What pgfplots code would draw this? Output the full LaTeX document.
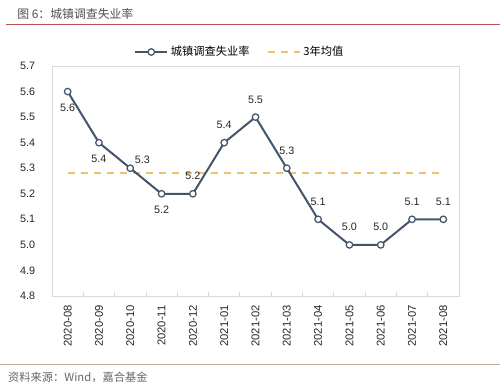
\documentclass[border=0pt]{standalone}
\usepackage{pgfplots}
\pgfplotsset{compat=1.18}
\usepackage{fontspec}
\setmainfont{Liberation Sans}
\newfontfamily\cjk{Noto Sans CJK SC}
\definecolor{lineblue}{HTML}{44546A}
\definecolor{avggold}{HTML}{F2C066}
\definecolor{framegray}{HTML}{D9D9D9}
\definecolor{titlegray}{HTML}{505050}
\definecolor{redline}{HTML}{C0504D}
\definecolor{footline}{HTML}{C9A39C}
\pgfplotsset{/pgf/number format/assume math mode=true}
\begin{document}
\begin{tikzpicture}
\path[use as bounding box] (0,0) rectangle (400pt,308pt);
\node[anchor=west, inner sep=0pt, font=\cjk\fontsize{9.5}{11}\selectfont, text=titlegray] at (13.6pt,296.8pt) {图 6：城镇调查失业率};
\draw[redline, line width=0.8pt] (4.8pt,288pt) -- (400pt,288pt);
\draw[footline, line width=0.8pt] (0pt,16pt) -- (400pt,16pt);
\node[anchor=west, inner sep=0pt, font=\cjk\fontsize{9}{10}\selectfont, text=black!60] at (6.4pt,6.4pt) {资料来源：Wind，嘉合基金};
\begin{axis}[
  at={(41.6pt,71.2pt)}, anchor=south west,
  scale only axis, width=325.6pt, height=184pt,
  xmin=-0.5, xmax=12.5, ymin=4.8, ymax=5.7,
  ytick={4.8,4.9,5.0,5.1,5.2,5.3,5.4,5.5,5.6,5.7},
  yticklabel style={/pgf/number format/fixed, /pgf/number format/fixed zerofill, /pgf/number format/precision=1},
  y tick label style={font=\fontsize{8.6}{10}\selectfont, xshift=-10pt},
  xtick={0,1,2,3,4,5,6,7,8,9,10,11,12},
  xticklabels={2020-08,2020-09,2020-10,2020-11,2020-12,2021-01,2021-02,2021-03,2021-04,2021-05,2021-06,2021-07,2021-08},
  x tick label style={yshift=-4pt, rotate=90, anchor=east, font=\fontsize{9}{10}\selectfont},
  major tick length=0pt,
  minor xtick={-0.5,0.5,1.5,2.5,3.5,4.5,5.5,6.5,7.5,8.5,9.5,10.5,11.5,12.5},
  minor tick length=3pt,
  tick align=inside,
  xtick pos=bottom, ytick pos=left,
  minor tick style={framegray, line width=0.6pt},
  axis line style={framegray, line width=0.6pt},
  tick label style={text=black!85},
  legend style={at={(0.462,1.061)}, anchor=center, draw=none, fill=none, legend columns=2, font=\cjk\fontsize{9}{10}\selectfont, /tikz/every even column/.append style={column sep=12pt}},
  legend cell align=left,
  legend image code/.code={\draw[mark repeat=2,mark phase=2,#1] plot coordinates {(0cm,0cm) (0.45cm,0cm) (0.9cm,0cm)};},
  clip=false,
]
\addplot[avggold, line width=1.4pt, dash pattern=on 5.6pt off 4.8pt, forget plot] coordinates {(0,5.28) (12,5.28)};
\addplot[lineblue, line width=1.6pt, mark=*, mark size=2.6pt, mark options={fill=white, draw=lineblue, line width=1pt, solid}] coordinates {
(0,5.6) (1,5.4) (2,5.3) (3,5.2) (4,5.2) (5,5.4) (6,5.5) (7,5.3) (8,5.1) (9,5.0) (10,5.0) (11,5.1) (12,5.1)};
\addlegendentry{城镇调查失业率}
\addlegendimage{avggold, line width=1.4pt, dash pattern=on 5.6pt off 4.8pt}
\addlegendentry{3年均值}
% labels above
\addplot[draw=none, mark=none, forget plot, point meta=y,
  nodes near coords={\pgfmathprintnumber[fixed,fixed zerofill,precision=1]{\pgfplotspointmeta}},
  nodes near coords style={font=\fontsize{8.6}{10}\selectfont, text=black!85, anchor=center, yshift=14.2pt}]
  coordinates {(4,5.2) (5,5.4) (6,5.5) (7,5.3) (8,5.1) (9,5.0) (10,5.0) (11,5.1) (12,5.1)};
% labels below
\addplot[draw=none, mark=none, forget plot, point meta=y,
  nodes near coords={\pgfmathprintnumber[fixed,fixed zerofill,precision=1]{\pgfplotspointmeta}},
  nodes near coords style={font=\fontsize{8.6}{10}\selectfont, text=black!85, anchor=center, yshift=-13pt}]
  coordinates {(0,5.6) (1,5.4) (3,5.2)};
% label above right
\addplot[draw=none, mark=none, forget plot, point meta=y,
  nodes near coords={\pgfmathprintnumber[fixed,fixed zerofill,precision=1]{\pgfplotspointmeta}},
  nodes near coords style={font=\fontsize{8.6}{10}\selectfont, text=black!85, anchor=center, yshift=6.4pt, xshift=9.6pt}]
  coordinates {(2,5.3)};
\end{axis}
\end{tikzpicture}
\end{document}
